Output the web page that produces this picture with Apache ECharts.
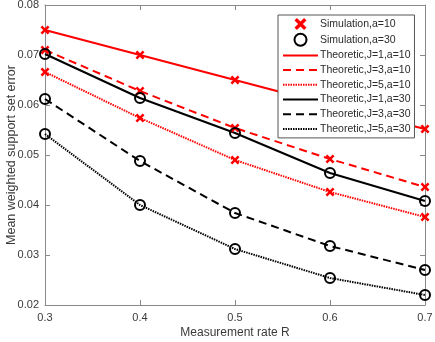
<!DOCTYPE html>
<html><head><meta charset="utf-8">
<script src="https://cdn.jsdelivr.net/npm/echarts@6/dist/echarts.min.js"></script>
<style>html,body{margin:0;padding:0;background:#fff}#c{width:435px;height:342px}</style>
</head><body><div id="c"></div>
<script>
const rates = [0.3, 0.4, 0.5, 0.6, 0.7];
const j1a10 = [0.0750, 0.0700, 0.0650, 0.0600, 0.0552];
const j3a10 = [0.0710, 0.0628, 0.0554, 0.0492, 0.0436];
const j5a10 = [0.0666, 0.0574, 0.0490, 0.0426, 0.0376];
const j1a30 = [0.0702, 0.0614, 0.0544, 0.0464, 0.0408];
const j3a30 = [0.0612, 0.0488, 0.0384, 0.0318, 0.0270];
const j5a30 = [0.0542, 0.0400, 0.0312, 0.0254, 0.0220];
const yTicks = ['0.02','0.03','0.04','0.05','0.06','0.07','0.08'];
const xTicks = ['0.3','0.4','0.5','0.6','0.7'];

const pairs = arr => arr.map((v, i) => [rates[i], v]);
const FONT = 'Liberation Sans';
const AX = '#8a8a8a';
const LBL = '#3a3a3a';
const XPATH = 'path://M2,0 L5,3 L8,0 L10,2 L7,5 L10,8 L8,10 L5,7 L2,10 L0,8 L3,5 L0,2 Z';

function line(name, data, color, type) {
  return {
    name, type: 'line', data: pairs(data), symbol: 'none', showSymbol: false,
    lineStyle: { color, width: 2, type }, itemStyle: { color }, z: 2, animation: false
  };
}
const lineNames = ['Theoretic,J=1,a=10', 'Theoretic,J=3,a=10', 'Theoretic,J=5,a=10',
  'Theoretic,J=1,a=30', 'Theoretic,J=3,a=30', 'Theoretic,J=5,a=30'];

const chart = echarts.init(document.getElementById('c'), null, { renderer: 'canvas' });
chart.setOption({
  animation: false,
  grid: { left: 45, right: 10, top: 5, bottom: 37, containLabel: false, outerBoundsMode: 'none' },
  textStyle: { fontFamily: FONT },
  legend: {
    orient: 'vertical', left: 278, top: 15,
    padding: [3, 4, 3, 4], itemGap: 2.7, itemWidth: 35, itemHeight: 12,
    backgroundColor: '#fff', borderColor: '#555', borderWidth: 1,
    textStyle: { fontFamily: FONT, fontSize: 10.5, color: '#2a2a2a', lineHeight: 12, padding: [0, 0, 0, -3] },
    data: ['Simulation,a=10', 'Simulation,a=30'].concat(
      lineNames.map(n => ({ name: n, itemStyle: { opacity: 0 } })))
  },
  xAxis: [{
    type: 'value', min: 0.3, max: 0.7, interval: 0.1,
    name: 'Measurement rate R', nameLocation: 'middle', nameGap: 22, nameMoveOverlap: false,
    nameTextStyle: { fontFamily: FONT, fontSize: 12, color: LBL },
    axisLine: { lineStyle: { color: AX, width: 1 } },
    axisTick: { inside: true, length: 5, lineStyle: { color: AX } },
    splitLine: { show: false },
    axisLabel: { fontFamily: FONT, fontSize: 11, color: LBL, margin: 7,
      formatter: v => xTicks[Math.round((v - 0.3) * 10)] }
  }, {
    type: 'value', position: 'top', min: 0.3, max: 0.7, interval: 0.1,
    axisLine: { show: true, lineStyle: { color: AX, width: 1 } },
    axisTick: { show: true, inside: true, length: 5, lineStyle: { color: AX } },
    axisLabel: { show: false }, splitLine: { show: false }
  }],
  yAxis: [{
    type: 'value', min: 0.02, max: 0.08, interval: 0.01,
    name: 'Mean weighted support set error', nameLocation: 'middle', nameGap: 27, nameMoveOverlap: false,
    nameTextStyle: { fontFamily: FONT, fontSize: 12.5, color: LBL },
    axisLine: { show: true, lineStyle: { color: AX, width: 1 } },
    axisTick: { show: true, inside: true, length: 5, lineStyle: { color: AX } },
    splitLine: { show: false },
    axisLabel: { fontFamily: FONT, fontSize: 11, color: LBL, margin: 6,
      formatter: v => yTicks[Math.round((v - 0.02) * 100)] }
  }, {
    type: 'value', position: 'right', min: 0.02, max: 0.08, interval: 0.01,
    axisLine: { show: true, lineStyle: { color: AX, width: 1 } },
    axisTick: { show: true, inside: true, length: 5, lineStyle: { color: AX } },
    axisLabel: { show: false }, splitLine: { show: false }
  }],
  series: [
    line(lineNames[0], j1a10, '#ff0000', 'solid'),
    line(lineNames[1], j3a10, '#ff0000', [8, 5]),
    line(lineNames[2], j5a10, '#ff0000', [1.5, 1]),
    line(lineNames[3], j1a30, '#000000', 'solid'),
    line(lineNames[4], j3a30, '#000000', [8, 5]),
    line(lineNames[5], j5a30, '#000000', [1.5, 1]),
    {
      name: 'Simulation,a=10', type: 'scatter', symbol: XPATH, symbolSize: 9, z: 3,
      itemStyle: { color: '#ff0000', opacity: 1 },
      data: [].concat(pairs(j1a10), pairs(j3a10), pairs(j5a10))
    },
    {
      name: 'Simulation,a=30', type: 'scatter', symbol: 'circle', symbolSize: 10, z: 3,
      itemStyle: { color: 'rgba(0,0,0,0)', borderColor: '#000', borderWidth: 2, opacity: 1 },
      data: [].concat(pairs(j1a30), pairs(j3a30), pairs(j5a30))
    }
  ]
});
</script></body></html>
